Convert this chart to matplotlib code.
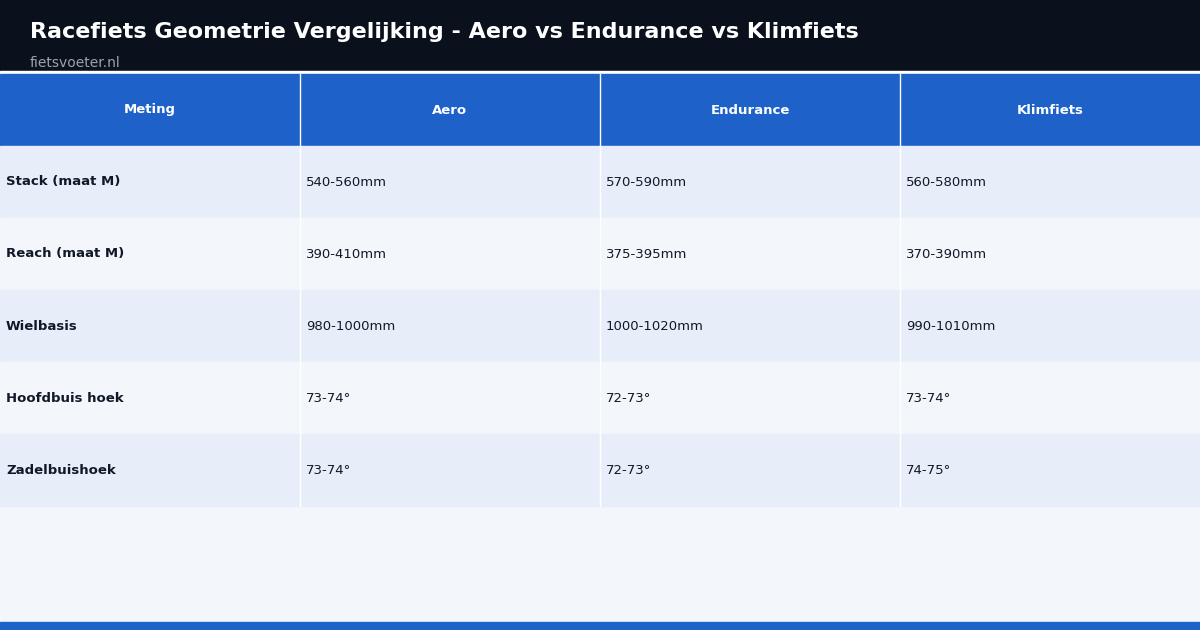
import matplotlib
matplotlib.use("Agg")
import matplotlib.pyplot as plt
from matplotlib.patches import Rectangle

title = "Racefiets Geometrie Vergelijking - Aero vs Endurance vs Klimfiets"
subtitle = "fietsvoeter.nl"
columns = ["Meting", "Aero", "Endurance", "Klimfiets"]
metingen = ["Stack (maat M)", "Reach (maat M)", "Wielbasis", "Hoofdbuis hoek", "Zadelbuishoek"]
aero = ["540-560mm", "390-410mm", "980-1000mm", "73-74°", "73-74°"]
endurance = ["570-590mm", "375-395mm", "1000-1020mm", "72-73°", "72-73°"]
klimfiets = ["560-580mm", "370-390mm", "990-1010mm", "73-74°", "74-75°"]

W, H = 1200, 630
fig = plt.figure(figsize=(12, 6.3), dpi=100)
ax = fig.add_axes([0, 0, 1, 1])
ax.set_xlim(0, W); ax.set_ylim(H, 0); ax.axis("off")

ax.add_patch(Rectangle((0, 0), W, H, color="#f3f6fb", zorder=0))
ax.add_patch(Rectangle((0, 0), W, 71, color="#0b111c", zorder=1))
ax.add_patch(Rectangle((0, 71), W, 3, color="white", zorder=1))
ax.text(30, 32, title, color="white", fontsize=16, fontweight="bold", va="center", ha="left")
ax.text(30, 63, subtitle, color="#9aa3b0", fontsize=10, va="center", ha="left")

colw = 300
hdr_top, hdr_h, row_h = 74, 72, 72
ax.add_patch(Rectangle((0, hdr_top), W, hdr_h, color="#1e62c9", zorder=1))
for i, c in enumerate(columns):
    ax.text(i * colw + colw / 2, hdr_top + hdr_h / 2, c, color="white", fontsize=9.5,
            fontweight="bold", ha="center", va="center", zorder=3)

data = [metingen, aero, endurance, klimfiets]
for r in range(len(metingen)):
    y0 = hdr_top + hdr_h + r * row_h
    ax.add_patch(Rectangle((0, y0), W, row_h, color="#e8eef9" if r % 2 == 0 else "#f3f6fb", zorder=1))
    for ci, col in enumerate(data):
        ax.text(ci * colw + 6, y0 + row_h / 2, col[r], color="#111827", fontsize=9.5,
                fontweight="bold" if ci == 0 else "normal", ha="left", va="center", zorder=3)

table_bottom = hdr_top + hdr_h + len(metingen) * row_h
for i in range(1, 4):
    ax.plot([i * colw - 0.5, i * colw - 0.5], [hdr_top, table_bottom], color="white", lw=1, zorder=2)

ax.add_patch(Rectangle((0, 622), W, 8, color="#1e62c9", zorder=1))
fig.savefig("out.png", dpi=100)
